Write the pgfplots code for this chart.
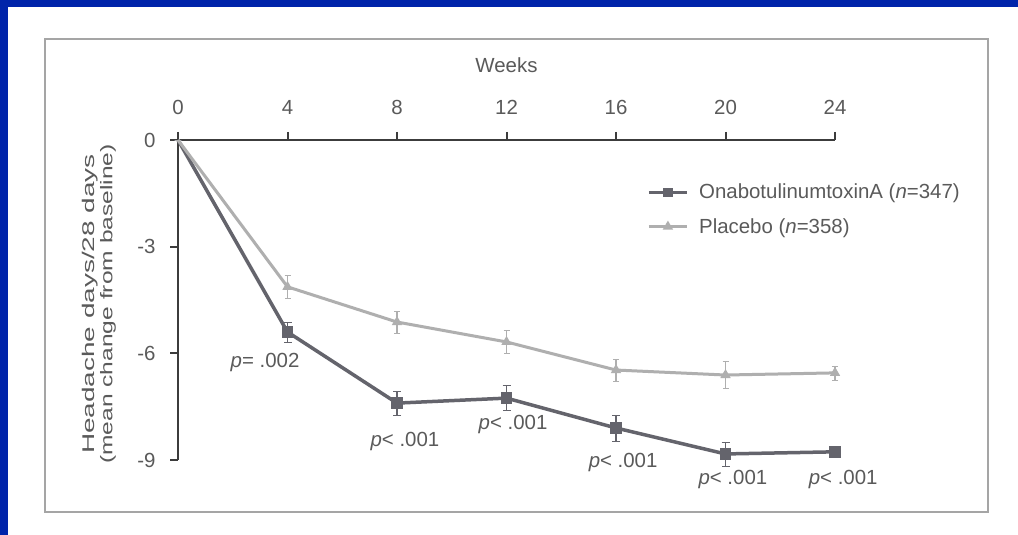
\documentclass[border=0pt]{standalone}
\usepackage{pgfplots}
\pgfplotsset{compat=1.18}
\usepackage{fontspec}
\setmainfont{Liberation Sans}
\definecolor{slideblue}{RGB}{0,36,170}
\definecolor{framegray}{RGB}{165,165,165}
\definecolor{onacol}{RGB}{100,100,108}
\definecolor{placol}{RGB}{175,175,175}
\definecolor{axcol}{RGB}{60,60,60}
\definecolor{txtcol}{RGB}{90,90,90}
\newcommand{\chartfont}{\fontsize{20.5}{24}\selectfont}
\begin{document}
\begin{tikzpicture}
\path[use as bounding box] (0bp,0bp) rectangle (1018bp,535bp);
\fill[slideblue] (0bp,0bp) rectangle (1018bp,535bp);
\fill[white] (8bp,0bp) rectangle (1018bp,528bp);
\draw[framegray, line width=2bp] (45bp,23bp) rectangle (988bp,496bp);
\node[rotate=90, align=center, font=\fontsize{17}{17}\selectfont, text=txtcol] at (99bp,231bp)
  {\scalebox{1.65}[1]{Headache days/28 days}\\[1bp]\scalebox{1.45}[1]{(mean change from baseline)}};
\begin{axis}[
  at={(178bp,75bp)}, anchor=south west,
  width=657bp, height=320bp, scale only axis,
  xmin=0, xmax=24, ymin=-9, ymax=0,
  axis x line*=top, axis y line*=left,
  axis line style={axcol, line width=2.5bp},
  xtick={0,4,8,12,16,20,24},
  xticklabels={0,4,8,12,16,20,24},
  ytick={0,-3,-6,-9},
  yticklabels={0,-3,-6,-9},
  tick align=outside, major tick length=8bp,
  tick style={axcol, line width=2bp},
  tick label style={font=\chartfont, text=txtcol},
  xticklabel style={yshift=14bp},
  yticklabel style={xshift=-11bp},
  clip=false,
  legend style={at={(0.71,0.875)}, anchor=north west, draw=none, fill=none,
    font=\chartfont, text=txtcol, row sep=14bp,
    /tikz/every odd column/.append style={column sep=9bp}},
  legend image code/.code={
    \draw[#1, line width=2.5bp] (0bp,0bp) -- (38bp,0bp);
    \draw[#1, only marks, mark indices={1}, mark size=3bp] plot coordinates {(19bp,0bp)};},
  legend cell align=left,
]
\addplot[onacol, line width=3.5bp, mark=square*, mark size=4bp,
  mark indices={2,3,4,5,6,7},
  mark options={fill=onacol, draw=onacol, solid},
  error bars/.cd, y dir=both, y explicit,
  error bar style={line width=1.3bp, onacol}]
  coordinates {
  (0,0) +- (0,0)
  (4,-5.40) +- (0,0.28)
  (8,-7.40) +- (0,0.33)
  (12,-7.26) +- (0,0.35)
  (16,-8.10) +- (0,0.36)
  (20,-8.83) +- (0,0.34)
  (24,-8.77) +- (0,0.08)
  };
\addlegendentry{OnabotulinumtoxinA (\textit{n}=347)}
\addplot[placol, line width=3bp, mark=triangle*, mark size=3bp,
  mark indices={2,3,4,5,6,7},
  mark options={fill=placol, draw=placol, solid},
  error bars/.cd, y dir=both, y explicit,
  error bar style={line width=1.3bp, placol}]
  coordinates {
  (0,0) +- (0,0)
  (4,-4.13) +- (0,0.33)
  (8,-5.12) +- (0,0.31)
  (12,-5.68) +- (0,0.33)
  (16,-6.47) +- (0,0.30)
  (20,-6.61) +- (0,0.38)
  (24,-6.55) +- (0,0.20)
  };
\addlegendentry{Placebo (\textit{n}=358)}
\node[font=\chartfont, text=txtcol] at (rel axis cs:0.5,1) [yshift=75bp] {Weeks};
\node[font=\chartfont, text=txtcol] at (axis cs:3.18,-6.27) {\textit{p}= .002};
\node[font=\chartfont, text=txtcol] at (axis cs:8.29,-8.49) {\textit{p}< .001};
\node[font=\chartfont, text=txtcol] at (axis cs:12.24,-7.99) {\textit{p}< .001};
\node[font=\chartfont, text=txtcol] at (axis cs:16.26,-9.06) {\textit{p}< .001};
\node[font=\chartfont, text=txtcol] at (axis cs:20.27,-9.56) {\textit{p}< .001};
\node[font=\chartfont, text=txtcol] at (axis cs:24.3,-9.56) {\textit{p}< .001};
\end{axis}
\end{tikzpicture}
\end{document}
